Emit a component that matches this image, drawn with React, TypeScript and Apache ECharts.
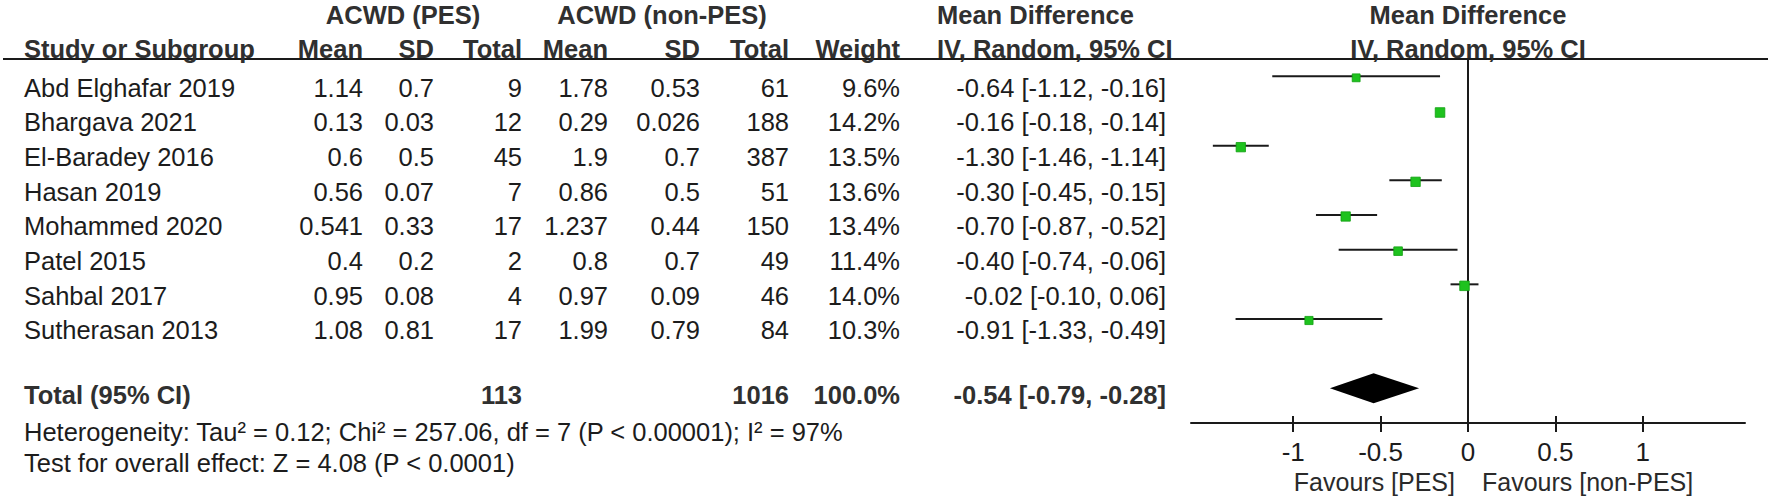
import React, { useEffect, useRef } from "react";
import * as echarts from "echarts";

// ---------- data ----------
const studies = [
  "Abd Elghafar 2019",
  "Bhargava 2021",
  "El-Baradey 2016",
  "Hasan 2019",
  "Mohammed 2020",
  "Patel 2015",
  "Sahbal 2017",
  "Sutherasan 2013",
];
const pesMean = [1.14, 0.13, 0.6, 0.56, 0.541, 0.4, 0.95, 1.08];
const pesSD = [0.7, 0.03, 0.5, 0.07, 0.33, 0.2, 0.08, 0.81];
const pesTotal = [9, 12, 45, 7, 17, 2, 4, 17];
const nonMean = [1.78, 0.29, 1.9, 0.86, 1.237, 0.8, 0.97, 1.99];
const nonSD = [0.53, 0.026, 0.7, 0.5, 0.44, 0.7, 0.09, 0.79];
const nonTotal = [61, 188, 387, 51, 150, 49, 46, 84];
const weights = [9.6, 14.2, 13.5, 13.6, 13.4, 11.4, 14.0, 10.3];
const md = [-0.64, -0.16, -1.3, -0.3, -0.7, -0.4, -0.02, -0.91];
const ciLow = [-1.12, -0.18, -1.46, -0.45, -0.87, -0.74, -0.1, -1.33];
const ciHigh = [-0.16, -0.14, -1.14, -0.15, -0.52, -0.06, 0.06, -0.49];

const totalLabel = "Total (95% CI)";
const totalPes = 113;
const totalNon = 1016;
const totalWeight = 100.0;
const totalMd = -0.54;
const totalLow = -0.79;
const totalHigh = -0.28;

const groupHeaders = ["ACWD (PES)", "ACWD (non-PES)", "Mean Difference", "Mean Difference"];
const colHeaders = ["Study or Subgroup", "Mean", "SD", "Total", "Mean", "SD", "Total", "Weight", "IV, Random, 95% CI", "IV, Random, 95% CI"];
const heterogeneity = "Heterogeneity: Tau\u00b2 = 0.12; Chi\u00b2 = 257.06, df = 7 (P < 0.00001); I\u00b2 = 97%";
const overallEffect = "Test for overall effect: Z = 4.08 (P < 0.0001)";
const xTicks = [-1, -0.5, 0, 0.5, 1];
const favours = ["Favours [PES]", "Favours [non-PES]"];

// ---------- layout ----------
const W = 1772;
const H = 499;
const FONT = "'Liberation Sans', Arial, Helvetica, sans-serif";
const FS = 25.5;
const SY = 1.04;
const TEXT_DY = 11;
const NAME_X = 24;
const COL_RIGHT = [363, 434, 522, 608, 700, 789, 900, 1166];
const MDHEAD_X = 937;
const GROUP_CX = [403, 662];
const HEAD1_Y = 15;
const HEAD2_Y = 49;
const FOOT_Y = [432, 463];
const TOTAL_DY = 6;
const TEXT_COLOR = "#1c1c1c";
const HEAD_COLOR = "#303030";
const SQUARE_MAX = 9.6;

function txt(text: string, x: number, y: number, align: string, bold = false, color = TEXT_COLOR, fs = FS) {
  return {
    type: "text",
    x,
    y,
    scaleY: SY,
    silent: true,
    style: {
      text,
      x: 0,
      y: 0,
      fill: color,
      fontSize: fs,
      fontFamily: FONT,
      fontWeight: bold ? "bold" : "normal",
      align,
      verticalAlign: "middle",
    },
  };
}

const fmt2 = (v: number) => v.toFixed(2);
const ciText = (m: number, l: number, h: number) => `${fmt2(m)} [${fmt2(l)}, ${fmt2(h)}]`;

function buildOption() {
  const tableSeries = {
    type: "custom",
    name: "table",
    silent: true,
    clip: false,
    data: studies.map((_, i) => [0, i]),
    renderItem: (params: any, api: any) => {
      const i = params.dataIndex;
      const y = api.coord([0, i])[1] + TEXT_DY;
      const cells = [
        String(pesMean[i]),
        String(pesSD[i]),
        String(pesTotal[i]),
        String(nonMean[i]),
        String(nonSD[i]),
        String(nonTotal[i]),
        weights[i].toFixed(1) + "%",
        ciText(md[i], ciLow[i], ciHigh[i]),
      ];
      return {
        type: "group",
        children: [
          txt(studies[i], NAME_X, y, "left"),
          ...cells.map((c, k) => txt(c, COL_RIGHT[k], y, "right")),
        ],
      };
    },
  };

  const forestSeries = {
    type: "custom",
    name: "studies",
    silent: true,
    clip: false,
    encode: { x: [0, 1, 2], y: 3 },
    data: md.map((m, i) => [ciLow[i], ciHigh[i], m, i, weights[i]]),
    renderItem: (params: any, api: any) => {
      const row = api.value(3);
      const p1 = api.coord([api.value(0), row]);
      const p2 = api.coord([api.value(1), row]);
      const pm = api.coord([api.value(2), row]);
      const s = SQUARE_MAX * Math.sqrt(api.value(4) / 14.2);
      return {
        type: "group",
        children: [
          {
            type: "line",
            shape: { x1: p1[0], y1: p1[1], x2: p2[0], y2: p2[1] },
            style: { stroke: "#1a1a1a", lineWidth: 2 },
          },
          {
            type: "rect",
            shape: { x: pm[0] - s / 2, y: pm[1] + 1.5 - s / 2, width: s, height: s },
            style: { fill: "#1ec21e", stroke: "#12a012", lineWidth: 0.8 },
          },
        ],
      };
    },
  };

  const totalRow = 9;
  const totalSeries = {
    type: "custom",
    name: "total",
    silent: true,
    clip: false,
    encode: { x: [0, 1, 2], y: 3 },
    data: [[totalLow, totalHigh, totalMd, totalRow]],
    renderItem: (params: any, api: any) => {
      const row = api.value(3);
      const pl = api.coord([api.value(0), row]);
      const ph = api.coord([api.value(1), row]);
      const pm = api.coord([api.value(2), row]);
      const hh = 15;
      const ty = pm[1] + TOTAL_DY;
      return {
        type: "group",
        children: [
          {
            type: "polygon",
            shape: { points: [[pl[0], pm[1]], [pm[0], pm[1] - hh], [ph[0], pm[1]], [pm[0], pm[1] + hh]] },
            style: { fill: "#000" },
          },
          txt(totalLabel, NAME_X, ty, "left", true, HEAD_COLOR),
          txt(String(totalPes), COL_RIGHT[2], ty, "right", true, HEAD_COLOR),
          txt(String(totalNon), COL_RIGHT[5], ty, "right", true, HEAD_COLOR),
          txt(totalWeight.toFixed(1) + "%", COL_RIGHT[6], ty, "right", true, HEAD_COLOR),
          txt(ciText(totalMd, totalLow, totalHigh), COL_RIGHT[7], ty, "right", true, HEAD_COLOR),
        ],
      };
    },
  };

  const decorSeries = {
    type: "custom",
    name: "decor",
    silent: true,
    clip: false,
    data: [[0, -0.5]],
    renderItem: (params: any, api: any) => {
      const p = api.coord([0, -0.5]);
      const zx = p[0];
      const lineY = p[1];
      const axisY = api.coord([0, 10])[1];
      const colX = [NAME_X, ...COL_RIGHT.slice(0, 7)];
      return {
        type: "group",
        children: [
          {
            type: "line",
            shape: { x1: 3, y1: lineY, x2: 1768, y2: lineY },
            style: { stroke: "#1a1a1a", lineWidth: 2 },
          },
          txt(groupHeaders[0], GROUP_CX[0], HEAD1_Y, "center", true, HEAD_COLOR),
          txt(groupHeaders[1], GROUP_CX[1], HEAD1_Y, "center", true, HEAD_COLOR),
          txt(groupHeaders[2], MDHEAD_X, HEAD1_Y, "left", true, HEAD_COLOR),
          txt(groupHeaders[3], zx, HEAD1_Y, "center", true, HEAD_COLOR),
          ...colHeaders.slice(0, 8).map((h, k) => txt(h, colX[k], HEAD2_Y, k === 0 ? "left" : "right", true, HEAD_COLOR)),
          txt(colHeaders[8], MDHEAD_X, HEAD2_Y, "left", true, HEAD_COLOR),
          txt(colHeaders[9], zx, HEAD2_Y, "center", true, HEAD_COLOR),
          txt(heterogeneity, NAME_X, FOOT_Y[0], "left"),
          txt(overallEffect, NAME_X, FOOT_Y[1], "left"),
          txt(favours[0], zx - 13, axisY + 59, "right", false, "#2a2a2a", 25),
          txt(favours[1], zx + 14, axisY + 59, "left", false, "#2a2a2a", 25),
        ],
      };
    },
  };

  const xBase = {
    type: "value",
    min: -1.585,
    max: 1.585,
    position: "bottom",
    splitLine: { show: false },
  };

  return {
    animation: false,
    backgroundColor: "#ffffff",
    grid: { left: 1191, top: 59, width: 554, height: 364, containLabel: false },
    xAxis: [
      {
        ...xBase,
        axisLine: { show: true, onZero: false, lineStyle: { color: "#1a1a1a", width: 2 } },
        axisTick: { show: true, inside: false, length: 9, customValues: xTicks, lineStyle: { color: "#1a1a1a", width: 2 } },
        axisLabel: {
          show: true,
          customValues: xTicks,
          margin: 16,
          fontSize: 26,
          fontFamily: FONT,
          color: "#1c1c1c",
          formatter: (v: number) => String(v),
        },
      },
      {
        ...xBase,
        axisLine: { show: false, onZero: false },
        axisTick: { show: true, inside: true, length: 7, customValues: xTicks, lineStyle: { color: "#1a1a1a", width: 2 } },
        axisLabel: { show: false },
      },
    ],
    yAxis: {
      type: "value",
      min: -0.5,
      max: 10,
      inverse: true,
      axisLine: { show: true, onZero: true, onZeroAxisIndex: 0, lineStyle: { color: "#1a1a1a", width: 2 } },
      axisTick: { show: false },
      axisLabel: { show: false },
      splitLine: { show: false },
    },
    series: [decorSeries, tableSeries, forestSeries, totalSeries],
  };
}

export default function App() {
  const ref = useRef<HTMLDivElement>(null);
  useEffect(() => {
    if (!ref.current) return;
    const chart = echarts.init(ref.current, undefined, { renderer: "svg" });
    chart.setOption(buildOption() as any);
    return () => chart.dispose();
  }, []);
  return (
    <div
      ref={ref}
      style={{ position: "fixed", left: 0, top: 0, width: W, height: H, background: "#fff" }}
    />
  );
}
